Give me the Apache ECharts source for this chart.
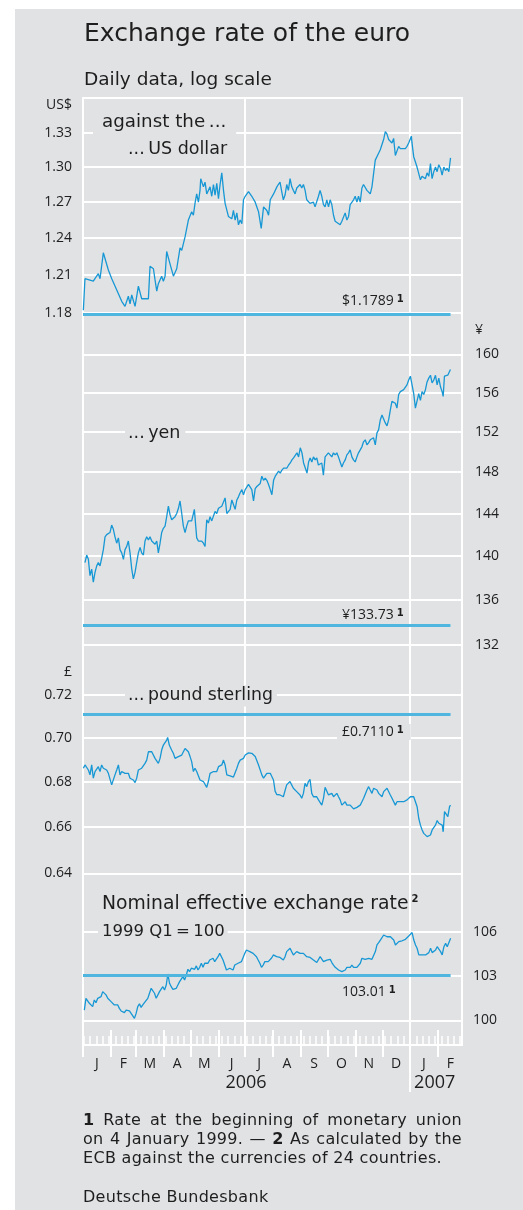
<!DOCTYPE html>
<html>
<head>
<meta charset="utf-8">
<script src="https://cdn.jsdelivr.net/npm/echarts@6/dist/echarts.min.js"></script>
<style>
  html, body { margin: 0; padding: 0; background: #fff; }
  #wrap { position: relative; width: 523px; height: 1210px; overflow: hidden; }
  #bg { position: absolute; left: 15px; top: 9px; right: 0; bottom: 0; background: #e1e2e4; }
  #chart { position: absolute; left: 0; top: 0; width: 523px; height: 1210px; }
  #notes { position: absolute; left: 83px; top: 1110px; width: 379px; font-family: "DejaVu Sans", sans-serif;
           font-size: 16px; line-height: 19px; color: #1e1e1e; letter-spacing: 0.3px; }
  #notes div { white-space: nowrap; }
  #notes .j { text-align: justify; text-align-last: justify; }
  #notes .src { margin-top: 20px; }
</style>
</head>
<body>
<div id="wrap">
  <div id="bg"></div>
  <div id="chart"></div>
  <div id="notes">
    <div class="j"><b>1</b> Rate at the beginning of monetary union</div>
    <div class="j">on 4 January 1999. — <b>2</b> As calculated by the</div>
    <div>ECB against the currencies of 24 countries.</div>
    <div class="src">Deutsche Bundesbank</div>
  </div>
</div>
<script>
// x values are days counted from 1 January 2006
var monthStarts = [0, 31, 59, 90, 120, 151, 181, 212, 243, 273, 304, 334, 365, 396];
var monthMids = [15.5, 45, 74.5, 105, 135.5, 166, 196.5, 227.5, 258, 288.5, 319, 349.5, 380.5, 410];
var monthLetters = ['J', 'F', 'M', 'A', 'M', 'J', 'J', 'A', 'S', 'O', 'N', 'D', 'J', 'F'];
var yearDays = [182, 392.5];
var yearLabels = ['2006', '2007'];
var halfYearLines = [181, 365];

var usdTicks = [1.18, 1.21, 1.24, 1.27, 1.30, 1.33];
var yenTicks = [132, 136, 140, 144, 148, 152, 156, 160];
var gbpTicks = [0.64, 0.66, 0.68, 0.70, 0.72];
var neerTicks = [100, 103, 106];

// rates at the start of monetary union (4 Jan 1999)
var usdRef = 1.1789, yenRef = 133.73, gbpRef = 0.7110, neerRef = 103.01;

var usd = [[0.4,1.182],[2.2,1.207],[11.5,1.205],[15.2,1.209],[17.1,1.211],[19,1.207],[22.7,1.228],[24.6,1.229],[28.3,1.214],[32.1,1.207],[35.8,1.201],[39.5,1.195],[43.2,1.189],[46.9,1.185],[50.6,1.193],[52.5,1.187],[54.4,1.194],[58.1,1.185],[61.8,1.201],[65.5,1.191],[69.2,1.191],[73,1.191],[74.8,1.217],[78.6,1.215],[80.4,1.206],[82.3,1.197],[84.1,1.203],[87.8,1.209],[89.7,1.205],[91.6,1.209],[93.4,1.229],[97.1,1.219],[100.9,1.209],[104.6,1.215],[108.3,1.232],[110.2,1.230],[113.9,1.241],[115.7,1.241],[117.6,1.255],[121.3,1.262],[123.2,1.259],[125,1.269],[126.9,1.277],[128.8,1.270],[130.6,1.280],[131.4,1.290],[134.4,1.283],[136.2,1.287],[138.1,1.277],[141.8,1.283],[143.7,1.275],[145.6,1.285],[147.4,1.276],[149.3,1.286],[151.2,1.273],[153,1.285],[154.9,1.295],[156.8,1.280],[158.6,1.269],[162.3,1.258],[166.1,1.256],[167.9,1.263],[169.8,1.255],[171.7,1.261],[173.5,1.251],[175.4,1.255],[177.3,1.252],[179.1,1.272],[181,1.275],[184.7,1.279],[188.4,1.275],[192.2,1.270],[195.9,1.262],[198.9,1.248],[201.5,1.266],[205.2,1.263],[207.1,1.259],[209,1.272],[212.7,1.277],[216.4,1.283],[218,1.285],[219.9,1.287],[221.8,1.279],[223.6,1.272],[225.5,1.276],[227.4,1.285],[229.2,1.280],[231.1,1.290],[233,1.283],[234.8,1.280],[236.7,1.277],[238.6,1.282],[242.3,1.285],[244.1,1.282],[246,1.285],[247.9,1.280],[249.7,1.272],[253.4,1.269],[255.3,1.268],[257.2,1.270],[259,1.266],[262.8,1.275],[264.6,1.280],[266.5,1.275],[268.4,1.268],[270.2,1.266],[272.1,1.272],[274,1.266],[275.8,1.272],[277.7,1.268],[279.6,1.259],[281.4,1.254],[283.3,1.254],[287,1.251],[288.9,1.254],[292.6,1.261],[294.5,1.255],[296.4,1.258],[298.2,1.268],[302,1.272],[303.8,1.275],[305.7,1.270],[307.5,1.275],[309.4,1.270],[311.3,1.282],[313.1,1.285],[316.9,1.280],[318.7,1.279],[320.6,1.277],[322.5,1.283],[324.3,1.282],[326.2,1.306],[329.9,1.312],[331.8,1.315],[335.5,1.324],[337.4,1.331],[339.2,1.329],[341.1,1.324],[343,1.325],[344.8,1.321],[346.7,1.325],[348.6,1.310],[350.4,1.309],[352.3,1.318],[354.2,1.316],[356,1.315],[359.8,1.316],[361.6,1.318],[363.5,1.321],[366.5,1.327],[367.2,1.321],[369.1,1.309],[372.8,1.300],[374.7,1.299],[376.6,1.289],[378.4,1.292],[380.3,1.293],[382.2,1.290],[384,1.295],[385.9,1.292],[387.8,1.303],[389.6,1.290],[391.5,1.296],[393.4,1.300],[395.2,1.296],[397.1,1.302],[399,1.299],[400.8,1.293],[402.7,1.300],[404.6,1.297],[406.4,1.299],[408.3,1.296],[410.2,1.308]];

var yen = [[2.2,139.4],[4.1,140.1],[6,139.7],[7.8,138.2],[9.7,138.8],[11.5,137.6],[13.4,138.5],[15.3,139.1],[17.1,139.4],[19,139.1],[20.8,139.8],[22.7,140.6],[24.6,141.8],[26.4,142.0],[30.1,142.2],[32,142.9],[33.9,142.5],[35.7,141.8],[37.6,141.2],[39.5,141.7],[41.3,140.6],[43.2,140.3],[45.1,139.7],[46.9,140.6],[48.8,140.9],[50.6,141.4],[52.5,140.3],[54.4,138.8],[56.2,137.9],[58.1,138.5],[59.9,139.4],[61.8,140.3],[63.7,140.8],[65.5,140.3],[67.4,140.1],[69.2,141.4],[71.1,141.8],[73,141.5],[74.8,141.8],[76.7,141.4],[78.6,141.5],[80.4,141.1],[82.3,141.4],[84.1,140.3],[86,141.2],[87.8,142.2],[89.7,142.6],[91.6,142.8],[93.4,143.7],[95.3,144.7],[97.1,143.9],[99,143.4],[100.9,143.3],[102.7,143.7],[104.6,144.0],[106.5,144.5],[108.3,145.2],[110.2,144.0],[112,142.8],[113.9,142.2],[115.7,142.8],[117.6,143.3],[119.5,143.4],[121.3,143.3],[123.2,143.4],[124.3,144.4],[126.9,141.7],[128.8,141.4],[130.6,141.5],[132.5,141.4],[134.4,141.2],[136.2,140.9],[138.1,143.4],[140,143.1],[141.8,143.7],[143.7,143.3],[145.6,143.4],[147.4,144.2],[149.3,144.0],[151.2,144.5],[153,144.5],[154.9,144.7],[156.8,144.8],[158.6,145.5],[160.5,144.0],[162.3,143.9],[164.2,144.4],[166.1,145.3],[167.9,145.2],[169.8,144.4],[171.7,145.3],[173.5,145.6],[175.4,146.0],[177.3,146.3],[179.1,145.8],[181,146.3],[182.9,146.4],[184.7,146.8],[186.6,146.9],[188.4,146.3],[190.3,145.2],[192.2,146.4],[194,146.6],[195.9,146.6],[197.8,146.9],[199.6,147.6],[201.5,147.2],[203.4,147.4],[205.2,147.2],[207.1,146.8],[209,146.3],[210.8,145.8],[212.7,147.2],[214.6,147.6],[216.4,147.7],[218.3,148.1],[220.1,147.9],[222,148.2],[223.9,148.4],[225.7,148.5],[227.6,148.4],[229.5,148.7],[231.3,148.9],[233.2,149.2],[235,149.4],[236.9,149.5],[238.8,149.9],[240.6,149.5],[242.5,150.4],[244.4,149.9],[246.2,148.9],[248.1,148.4],[250,147.9],[251.8,149.0],[253.5,149.4],[255.4,149.0],[257.2,149.5],[259.1,149.2],[260.9,149.4],[262.7,148.7],[264.6,148.7],[266.5,148.9],[268.3,147.7],[270.2,149.5],[272.1,149.4],[273.9,149.9],[275.8,149.7],[277.7,149.5],[279.5,149.9],[281.4,149.7],[283.3,149.9],[285.1,149.5],[287,149.0],[288.9,148.5],[290.7,148.9],[292.6,149.2],[294.5,149.7],[296.3,149.9],[298.2,150.2],[300.1,149.5],[301.9,149.2],[303.8,149.0],[305.7,149.5],[307.5,149.9],[309.4,150.2],[311.3,150.5],[313.1,151.0],[315,151.2],[316.9,150.7],[318.7,150.9],[320.6,151.2],[322.5,151.4],[324.3,151.4],[326.2,150.7],[328.1,151.9],[329.9,152.2],[331.8,153.2],[333.7,153.7],[335.5,153.5],[337.4,152.9],[339.3,152.6],[341.1,153.2],[343,154.2],[344.8,155.1],[346.7,155.2],[348.6,154.9],[350.4,154.4],[352.3,155.8],[354.2,156.1],[356,156.1],[357.9,156.3],[359.8,156.1],[361.6,156.8],[363.5,157.3],[365.4,157.7],[367.2,157.5],[369.1,155.9],[371,154.4],[372.8,154.4],[374.7,155.9],[376.6,155.2],[378.4,156.1],[380.3,155.8],[382.2,156.3],[384,157.1],[385.9,157.5],[387.8,157.8],[389.6,157.0],[391.5,157.3],[393.4,157.8],[395.2,156.8],[397.1,157.5],[399,156.6],[400.8,156.1],[402,155.6],[403.4,157.7],[405.3,157.8],[407.1,157.8],[409,158.0],[410.1,158.4]];

var gbp = [[0.4,0.686],[2.2,0.6875],[4.1,0.6882],[6,0.6852],[7.8,0.683],[9.7,0.6875],[11.5,0.6815],[13.4,0.6845],[15.3,0.6852],[17.1,0.6867],[19,0.6845],[20.8,0.6875],[22.7,0.686],[24.6,0.686],[26.4,0.6852],[28.3,0.6837],[30.1,0.6837],[32,0.6785],[33.9,0.6792],[35.7,0.683],[37.6,0.6852],[39.5,0.6875],[41.3,0.683],[43.2,0.6845],[45.1,0.6837],[46.9,0.6837],[48.8,0.6845],[50.6,0.6837],[52.5,0.6815],[54.4,0.6807],[56.2,0.6807],[58.1,0.6795],[59.9,0.6815],[61.8,0.6852],[63.7,0.6855],[65.5,0.686],[67.4,0.686],[69.2,0.6882],[71.1,0.6897],[73,0.6935],[74.8,0.6928],[76.7,0.6935],[78.6,0.6928],[80.4,0.6905],[82.3,0.6905],[84.1,0.6882],[86,0.6905],[87.8,0.6943],[89.7,0.6966],[91.6,0.6966],[93.4,0.6989],[94.5,0.7001],[96.3,0.6966],[98.9,0.6943],[100.8,0.6928],[102.7,0.6905],[104.6,0.6905],[106.4,0.6913],[108.3,0.6913],[110.2,0.692],[112,0.6913],[113.9,0.695],[115.7,0.6953],[117.6,0.6935],[119.5,0.6913],[121.3,0.689],[123.2,0.6845],[125,0.686],[126.9,0.6845],[128.8,0.6852],[130.6,0.6807],[132.5,0.6807],[134.4,0.68],[136.2,0.68],[138.1,0.6774],[139.9,0.68],[141.8,0.6837],[143.7,0.6845],[145.6,0.6845],[147.4,0.6852],[149.3,0.6845],[151.2,0.6867],[153,0.6875],[154.9,0.6875],[156.8,0.6897],[158.6,0.6875],[160.5,0.683],[162.3,0.6822],[164.2,0.6825],[166.1,0.6822],[167.9,0.682],[169.8,0.6822],[171.7,0.686],[173.5,0.6882],[175.4,0.6897],[177.3,0.6905],[179.1,0.6905],[181,0.692],[182.9,0.6928],[184.7,0.693],[186.6,0.6938],[188.4,0.6928],[190.3,0.692],[192.2,0.6913],[194,0.6913],[195.9,0.6875],[197.8,0.6867],[199.6,0.683],[201.5,0.6815],[203.4,0.6815],[205.2,0.6837],[207.1,0.683],[209,0.6837],[210.8,0.683],[212.6,0.6807],[214.4,0.6757],[216.2,0.6742],[218.1,0.6737],[219.9,0.674],[221.7,0.6732],[223.6,0.6732],[225.4,0.6732],[227.3,0.6785],[229.2,0.6792],[231,0.68],[232.9,0.6785],[234.8,0.677],[236.6,0.6762],[238.5,0.6755],[240.4,0.6747],[242.2,0.674],[244.1,0.6725],[246,0.6747],[247.8,0.6792],[249.7,0.6777],[251.6,0.68],[253.4,0.681],[255.3,0.6747],[257.2,0.6732],[259,0.674],[260.9,0.6732],[262.8,0.6718],[264.6,0.6725],[266.5,0.6695],[268.4,0.6725],[270.2,0.6774],[272.1,0.677],[274,0.674],[275.8,0.6732],[277.7,0.6747],[279.6,0.6732],[281.4,0.674],[283.3,0.6747],[285.2,0.6732],[287,0.6718],[288.9,0.6695],[290.8,0.6703],[292.6,0.671],[294.5,0.6695],[296.4,0.6703],[298.2,0.6695],[300.1,0.6688],[302,0.6678],[303.8,0.668],[305.7,0.6685],[307.6,0.6688],[309.4,0.6695],[311.3,0.671],[313.2,0.6725],[315,0.6732],[316.9,0.6762],[318.8,0.6777],[320.6,0.6762],[322.5,0.6747],[324.4,0.677],[326.2,0.677],[328.1,0.6762],[330,0.6747],[331.8,0.674],[333.7,0.6732],[335.6,0.6755],[337.4,0.6762],[339.3,0.677],[341.2,0.677],[343,0.674],[344.9,0.6725],[346.8,0.6718],[348.6,0.6695],[350.5,0.671],[352.4,0.6703],[354.2,0.671],[356.1,0.6703],[358,0.671],[359.8,0.671],[361.7,0.6718],[363.5,0.6725],[365.4,0.6732],[367.3,0.674],[369.1,0.6732],[371,0.671],[372.9,0.6688],[374.7,0.6637],[376.6,0.6607],[378.5,0.6586],[380.3,0.6571],[382.2,0.6571],[384.1,0.6557],[385.9,0.655],[387.8,0.6564],[389.7,0.6586],[391.5,0.6586],[393.4,0.6607],[395.3,0.6627],[397.1,0.6615],[399,0.6615],[400.9,0.6607],[402,0.6578],[403.5,0.6666],[405.3,0.6659],[407.2,0.6644],[409.1,0.6688],[410.2,0.6695]];

var neer = [[1.5,100.69],[3.3,101.47],[5.2,101.36],[7.1,101.14],[8.9,101.25],[10.8,100.92],[12.6,101.36],[14.5,101.18],[16.4,101.47],[18.2,101.36],[20.1,101.58],[22,101.92],[23.8,102.03],[25.7,101.7],[27.6,101.47],[29.4,101.36],[31.3,101.25],[33.2,101.14],[35,101.03],[36.9,100.92],[38.8,101.03],[40.6,100.8],[42.5,100.63],[44.4,100.58],[46.2,100.52],[48.1,100.69],[50,100.8],[51.8,100.63],[53.7,100.47],[55.6,100.58],[57.4,100.14],[59.3,100.47],[61.1,100.92],[63,101.1],[64.9,100.87],[66.7,101.03],[68.6,101.18],[70.5,101.25],[72.3,101.47],[74.2,101.81],[76.1,102.14],[77.9,102.03],[79.8,101.81],[81.7,101.47],[83.5,101.58],[85.4,101.92],[87.3,102.03],[89.1,102.25],[91,102.03],[92.9,102.36],[94.7,103.11],[96.6,102.48],[98.5,102.25],[100.3,102.07],[102.2,101.96],[104.1,102.14],[105.9,102.36],[107.8,102.59],[109.7,102.7],[111.5,102.93],[113.4,102.7],[115.3,103.04],[117.1,103.43],[119,103.27],[120.9,103.5],[122.7,103.38],[124.6,103.43],[126.5,103.66],[128.3,103.38],[130.2,103.56],[132.1,103.84],[133.9,103.56],[135.8,103.84],[137.7,103.95],[139.5,103.84],[141.4,104.06],[143.3,103.95],[145.1,104.18],[147,103.95],[148.9,104.06],[150.7,104.29],[152.6,104.52],[154.5,104.64],[156.3,104.06],[158.2,103.72],[160.1,103.38],[161.9,103.27],[163.8,103.5],[165.7,103.61],[167.5,103.38],[169.4,103.72],[171.3,103.72],[173.1,103.84],[175,103.84],[176.8,103.95],[178.7,104.06],[180.6,104.52],[182.4,104.75],[184.3,104.7],[186.2,104.64],[188,104.64],[189.9,104.52],[191.8,104.41],[193.6,104.29],[195.5,104.06],[197.4,103.84],[199.2,103.56],[201.1,103.72],[203,103.95],[204.8,104.06],[206.7,103.95],[208.6,104.06],[210.5,104.2],[212.4,104.41],[214.3,104.29],[216.1,104.29],[218,104.41],[219.9,104.24],[221.7,104.29],[223.6,104.06],[225.5,104.29],[227.3,104.64],[229.2,104.52],[231.1,104.87],[232.9,104.64],[234.8,104.41],[236.7,104.52],[238.5,104.64],[240.4,104.52],[242.3,104.52],[244.1,104.64],[246,104.52],[247.9,104.41],[249.7,104.29],[251.6,104.18],[253.5,104.24],[255.3,104.11],[257.2,104.06],[259.1,103.95],[260.9,103.89],[262.8,103.95],[264.7,104.29],[266.5,104.41],[268.4,103.95],[270.3,103.84],[272.1,104.06],[274,104.18],[275.9,104.11],[277.7,103.89],[279.6,103.72],[281.5,103.56],[283.3,103.5],[285.2,103.38],[287.1,103.33],[288.9,103.27],[290.8,103.33],[292.7,103.38],[294.5,103.56],[296.4,103.5],[298.3,103.56],[300.1,103.72],[302,103.56],[303.9,103.66],[305.7,103.56],[307.6,103.61],[309.5,103.84],[311.3,104.18],[313.2,104.24],[315.1,104.11],[316.9,104.18],[318.8,104.18],[320.7,104.06],[322.5,104.11],[324.4,104.06],[326.3,104.64],[328.1,105.1],[330,105.26],[331.9,105.44],[333.7,105.56],[335.6,105.79],[337.5,105.86],[339.3,105.67],[341.2,105.72],[343.1,105.67],[344.9,105.79],[346.8,105.44],[348.7,105.1],[350.5,105.1],[352.4,105.33],[354.3,105.44],[356.1,105.39],[358,105.44],[359.9,105.49],[361.7,105.56],[363.6,105.72],[365.5,105.79],[367.3,105.96],[369.2,105.44],[371.1,105.1],[372.9,104.87],[374.8,104.41],[376.7,104.29],[378.5,104.41],[380.4,104.29],[382.3,104.41],[384.1,104.34],[386,104.57],[387.9,104.87],[389.7,104.57],[391.6,104.64],[393.5,104.75],[395.3,104.98],[397.2,104.87],[399.1,104.64],[400.9,104.41],[402.8,104.98],[404.7,105.21],[406.5,104.98],[408.4,105.1],[410.3,105.56]];

var FONT = '"Open Sans", sans-serif';      // numbers
var TFONT = '"DejaVu Sans", sans-serif';   // running text
var INK = '#1e1e1e';
var LINE = '#1798d5';
var REF = '#4fb6e0';

var myChart = echarts.init(document.getElementById('chart'), null, { renderer: 'canvas' });

// every panel shares one log scale: values are plotted as natural logs
function lnPairs(arr) {
  return arr.map(function (p) { return [p[0], Math.log(p[1])]; });
}

function yAxis(pos, lo, hi, ticks, digits, margin) {
  var vals = ticks.map(Math.log);
  return {
    type: 'value', gridIndex: 0, position: pos,
    min: Math.log(lo), max: Math.log(hi),
    axisLine: { show: false, onZero: false },
    axisTick: { show: false, customValues: vals },
    axisLabel: {
      customValues: vals, margin: margin, color: INK, fontSize: 14, fontFamily: FONT,
      formatter: function (v) { return Math.exp(v).toFixed(digits); }
    },
    splitLine: { show: true, lineStyle: { color: '#ffffff', width: 2 } }
  };
}

function xAxis(extra) {
  var base = {
    type: 'value', gridIndex: 0, position: 'bottom', min: 0, max: 423,
    axisLine: { show: false, onZero: false },
    axisTick: { show: false },
    axisLabel: { show: false },
    splitLine: { show: false }
  };
  return Object.assign(base, extra);
}

var mondays = [];
for (var d = 1; d <= 423; d += 7) mondays.push(d);

function findLabel(v, at, names) {
  for (var i = 0; i < at.length; i++) if (Math.abs(at[i] - v) < 0.01) return names[i];
  return '';
}

function refLine(ref, arr) {
  var end = arr[arr.length - 1][0];
  return {
    silent: true, symbol: ['none', 'none'], label: { show: false },
    lineStyle: { color: REF, width: 3, type: 'solid' },
    emphasis: { disabled: true },
    data: [[{ coord: [0, Math.log(ref)] }, { coord: [end, Math.log(ref)] }]]
  };
}

function lineSeries(arr, yIdx, ref) {
  return {
    type: 'line', xAxisIndex: 0, yAxisIndex: yIdx, data: lnPairs(arr),
    showSymbol: false, symbol: 'none', z: 3,
    lineStyle: { color: LINE, width: 1.3 },
    markLine: refLine(ref, arr)
  };
}

function txt(x, y, text, size, more, fam) {
  return {
    type: 'text', x: x, y: y, z: 50, silent: true,
    style: Object.assign({
      text: text, fill: INK, fontSize: size, fontFamily: fam || TFONT,
      align: 'left', verticalAlign: 'middle'
    }, more || {})
  };
}

var GREY = '#e1e2e4';
var sup = { fontSize: 10, fontWeight: 'bold', fontFamily: TFONT, fill: INK, verticalAlign: 'top', padding: [0, 0, 0, 3] };
function richNum(size) {
  return { a: { fontSize: size, fontFamily: FONT, fill: INK }, s: sup };
}

var option = {
  animation: false,
  grid: { left: 83, right: 61, top: 98, bottom: 165, show: true, borderColor: '#ffffff', borderWidth: 2, backgroundColor: 'transparent' },
  xAxis: [
    // weekly ticks and month letters
    xAxis({
      axisLine: { show: true, onZero: false, lineStyle: { color: '#ffffff', width: 2 } },
      axisTick: { show: true, inside: true, length: 9, customValues: mondays, lineStyle: { color: '#ffffff', width: 1.5 } },
      axisLabel: {
        show: true, customValues: monthMids, margin: 12, color: INK, fontSize: 14, fontFamily: FONT,
        formatter: function (v) { return findLabel(v, monthMids, monthLetters); }
      }
    }),
    // month boundaries, inside
    xAxis({ axisTick: { show: true, inside: true, length: 15, customValues: monthStarts, lineStyle: { color: '#ffffff', width: 2 } } }),
    // month boundaries, outside
    xAxis({ axisTick: { show: true, inside: false, length: 12, customValues: monthStarts, lineStyle: { color: '#ffffff', width: 2 } } }),
    // year boundary and year labels
    xAxis({
      axisTick: { show: true, inside: false, length: 47, customValues: [365], lineStyle: { color: '#ffffff', width: 2 } },
      axisLabel: {
        show: true, customValues: yearDays, margin: 29, color: INK, fontSize: 18, fontFamily: FONT,
        formatter: function (v) { return findLabel(v, yearDays, yearLabels); }
      }
    }),
    // vertical grid lines at mid-year and year end
    xAxis({
      axisTick: { show: false, customValues: halfYearLines },
      splitLine: { show: true, lineStyle: { color: '#ffffff', width: 2 } }
    })
  ],
  yAxis: [
    yAxis('left', 0.72515, 1.36108, usdTicks, 2, 11),
    yAxis('right', 101.30, 189.58, yenTicks, 0, 13),
    yAxis('left', 0.57139, 1.06803, gbpTicks, 2, 11),
    yAxis('right', 98.40, 183.55, neerTicks, 0, 11)
  ],
  series: [
    lineSeries(usd, 0, usdRef),
    lineSeries(yen, 1, yenRef),
    lineSeries(gbp, 2, gbpRef),
    lineSeries(neer, 3, neerRef)
  ],
  graphic: [
    txt(84, 34, 'Exchange rate of the euro', 25),
    txt(84, 80, 'Daily data, log scale', 18.5),
    txt(72, 105, 'US$', 14, { align: 'right' }, FONT),
    txt(475, 330, '¥', 14, null, FONT),
    txt(72, 672, '£', 14, { align: 'right' }, FONT),
    txt(93, 122, 'against the\u2009...', 18.3, { backgroundColor: GREY, padding: [2, 10, 6, 9] }),
    txt(128, 149, '...\u2009US dollar', 17.5),
    txt(125, 433, '...\u2009yen', 17.5, { backgroundColor: GREY, padding: [2, 5, 2, 3] }),
    txt(125, 696, '...\u2009pound sterling', 17.3, { backgroundColor: GREY, padding: [2, 4, 2, 3] }),
    txt(102, 904, '{a|Nominal effective exchange rate}{s|2}', 18.8, {
      rich: { a: { fontSize: 18.8, fontFamily: TFONT, fill: INK }, s: sup }
    }),
    txt(98, 932, '1999 Q1\u2009=\u2009100', 16.5, { backgroundColor: GREY, padding: [2, 3, 2, 4] }),
    txt(342, 301, '{a|$1.1789}{s|1}', 14, { rich: richNum(14) }),
    txt(342, 615, '{a|¥133.73}{s|1}', 14, { rich: richNum(14) }),
    txt(337, 732, '{a|£0.7110}{s|1}', 14, { backgroundColor: GREY, padding: [1, 7, 1, 5], rich: richNum(14) }),
    txt(342, 992, '{a|103.01}{s|1}', 14, { rich: richNum(14) })
  ]
};

myChart.setOption(option);
window.addEventListener('resize', function () { myChart.resize(); });
</script>
</body>
</html>
